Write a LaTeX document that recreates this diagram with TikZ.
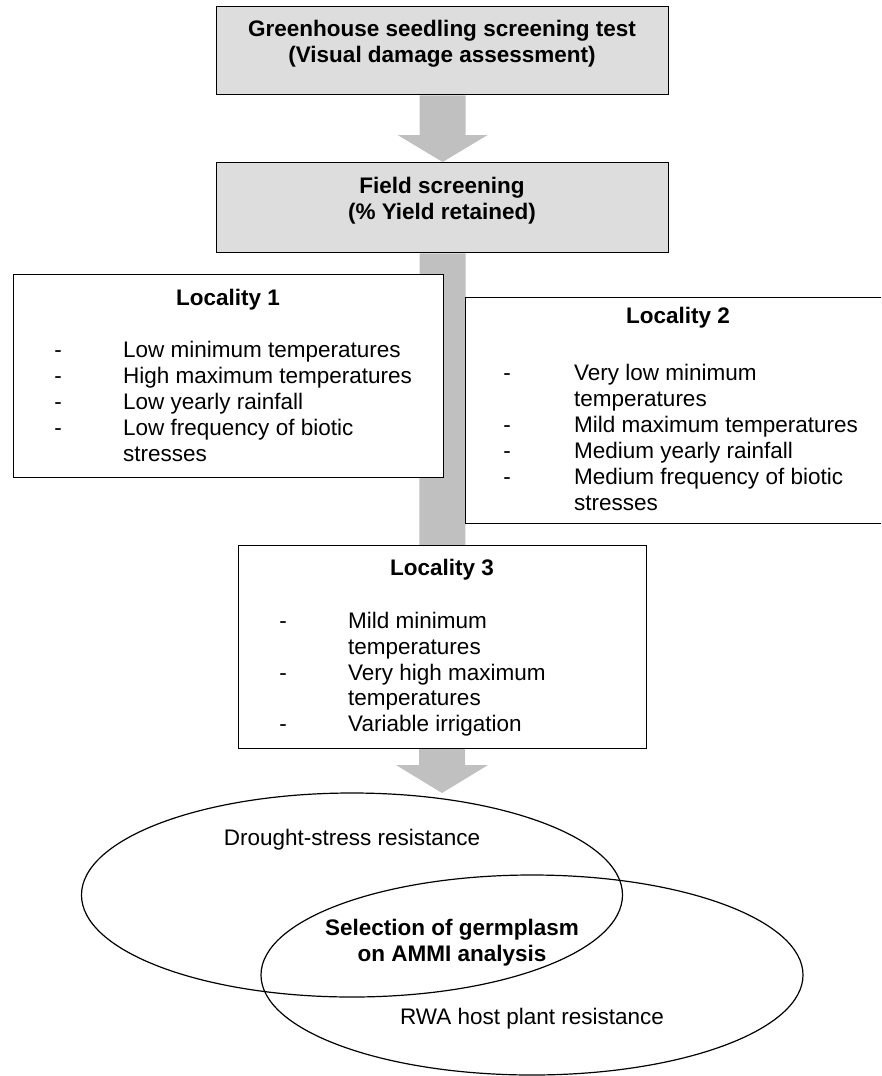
\documentclass[tikz,border=0pt]{standalone}
\usepackage{fontspec}
\setmainfont{Liberation Sans}
\usetikzlibrary{shapes.geometric,backgrounds,calc}
\definecolor{boxgray}{HTML}{DDDDDD}
\definecolor{arrowgray}{HTML}{C0C0C0}
\begin{document}
\begin{tikzpicture}[x=1pt,y=-1pt,
  font=\fontsize{22.5}{25.9}\selectfont,
  frame/.style={draw=black, line width=1.3pt, inner sep=0pt, anchor=north west},
  shadedbox/.style={frame, fill=boxgray},
  plainbox/.style={frame, fill=white},
  txt/.style={inner sep=0pt, anchor=base},
  itemtxt/.style={inner sep=0pt, anchor=base west},
  bigarrow/.style={fill=arrowgray, draw=none},
  oval/.style={draw=black, line width=1.2pt, ellipse, inner sep=0pt}]
\clip (0,0) rectangle (881,1076);

% boxes
\node[shadedbox, minimum width=452pt, minimum height=88pt] (b1) at (216,6) {};
\node[shadedbox, minimum width=452pt, minimum height=90pt] (b2) at (216,162) {};
\node[plainbox, minimum width=430pt, minimum height=203pt] (l1) at (13,274) {};
\node[plainbox, minimum width=430pt, minimum height=226pt] (l2) at (465,297) {};
\node[plainbox, minimum width=408pt, minimum height=203pt] (l3) at (238,545) {};

% ellipses
\node[oval, minimum width=541pt, minimum height=204pt] (e1) at (352,895) {};
\node[oval, minimum width=542pt, minimum height=200pt] (e2) at (532,975) {};
\coordinate (tip2) at (442,793);

% arrows behind boxes
\begin{scope}[on background layer]
\fill[bigarrow] ($(b1.south)+(-23,0)$) -- ($(b1.south)+(23,0)$)
  -- ($(b2.north)+(23,-27)$) -- ($(b2.north)+(45,-27)$) -- (b2.north)
  -- ($(b2.north)+(-45,-27)$) -- ($(b2.north)+(-23,-27)$) -- cycle;
\fill[bigarrow] ($(b2.south)+(-23,0)$) -- ($(b2.south)+(23,0)$)
  -- ($(tip2)+(23,-28)$) -- ($(tip2)+(46,-28)$) -- (tip2)
  -- ($(tip2)+(-46,-28)$) -- ($(tip2)+(-23,-28)$) -- cycle;
\end{scope}

% box texts
\node[txt] (g1) at (442,36) {\bfseries Greenhouse seedling screening test};
\node[txt] (g2) at (442,62) {\bfseries (Visual damage assessment)};
\node[txt] (f1) at (442,193) {\bfseries Field screening};
\node[txt] (f2) at (442,219) {\bfseries (\% Yield retained)};

% Locality 1
\node[txt] (l1t) at (228,305) {\bfseries Locality 1};
\node[txt] (l1d1) at (58,357) {-};
\node[itemtxt] (l1a) at (123,357) {Low minimum temperatures};
\node[txt] (l1d2) at (58,383) {-};
\node[itemtxt] (l1b) at (123,383) {High maximum temperatures};
\node[txt] (l1d3) at (58,409) {-};
\node[itemtxt] (l1c) at (123,409) {Low yearly rainfall};
\node[txt] (l1d4) at (58,435) {-};
\node[itemtxt] (l1e) at (123,435) {Low frequency of biotic};
\node[itemtxt] (l1f) at (123,461) {stresses};

% Locality 2
\node[txt] (l2t) at (678,323) {\bfseries Locality 2};
\node[txt] (l2d1) at (507,380) {-};
\node[itemtxt] (l2a) at (574,380) {Very low minimum};
\node[itemtxt] (l2b) at (574,406) {temperatures};
\node[txt] (l2d2) at (507,432) {-};
\node[itemtxt] (l2c) at (574,432) {Mild maximum temperatures};
\node[txt] (l2d3) at (507,458) {-};
\node[itemtxt] (l2e) at (574,458) {Medium yearly rainfall};
\node[txt] (l2d4) at (507,484) {-};
\node[itemtxt] (l2f) at (574,484) {Medium frequency of biotic};
\node[itemtxt] (l2g) at (574,510) {stresses};

% Locality 3
\node[txt] (l3t) at (442,575) {\bfseries Locality 3};
\node[txt] (l3d1) at (283,628) {-};
\node[itemtxt] (l3a) at (348,628) {Mild minimum};
\node[itemtxt] (l3b) at (348,654) {temperatures};
\node[txt] (l3d2) at (283,680) {-};
\node[itemtxt] (l3c) at (348,680) {Very high maximum};
\node[itemtxt] (l3e) at (348,705) {temperatures};
\node[txt] (l3d3) at (283,731) {-};
\node[itemtxt] (l3f) at (348,731) {Variable irrigation};

% ellipse texts
\node[txt] (dr) at (352,845) {Drought-stress resistance};
\node[txt] (s1) at (452,935) {\bfseries Selection of germplasm};
\node[txt] (s2) at (452,961) {\bfseries on AMMI analysis};
\node[txt] (rwa) at (532,1024) {RWA host plant resistance};
\end{tikzpicture}
\end{document}
